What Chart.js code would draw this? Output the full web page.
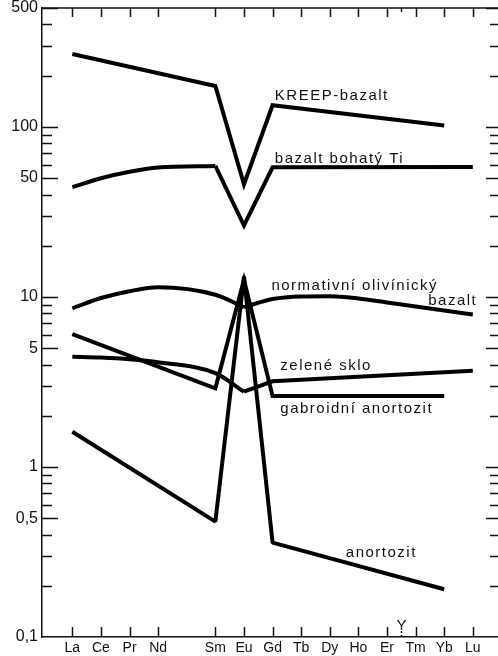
<!DOCTYPE html>
<html>
<head>
<meta charset="utf-8">
<script src="https://cdn.jsdelivr.net/npm/chart.js@4.4.1/dist/chart.umd.min.js"></script>
<style>
  html, body { margin: 0; padding: 0; background: #fff; }
  canvas { display: block; }
</style>
</head>
<body>
<canvas id="ree" width="498" height="656"></canvas>
<script>
// REE patterns, x = atomic number (Pm left out), y = normalised abundance (log)
const elements = ['La','Ce','Pr','Nd','Sm','Eu','Gd','Tb','Dy','Ho','Er','Tm','Yb','Lu'];
const atomicNumbers = [57, 58, 59, 60, 62, 63, 64, 65, 66, 67, 68, 69, 70, 71];
const yttriumAt = 68.5;

const yLabelTicks = [0.1, 0.5, 1, 5, 10, 50, 100, 500];
const yMinorTicks = [0.2, 0.3, 0.4, 0.6, 0.7, 0.8, 0.9, 2, 3, 4, 6, 7, 8, 9,
                     20, 30, 40, 60, 70, 80, 90, 200, 300, 400];

const kreepElements = ['La', 'Sm', 'Eu', 'Gd', 'Yb'];
const kreepValues = [268, 174, 46, 134, 102];

const tiCurveElements = ['La', 'Ce', 'Pr', 'Nd', 'Sm'];
const tiCurveValues = [44.2, 49.9, 54.5, 57.7, 58.9];
const tiLineElements = ['Sm', 'Eu', 'Gd', 'Lu'];
const tiLineValues = [58.9, 26.3, 57.8, 58];

const olivinLeftElements = ['La', 'Ce', 'Pr', 'Nd', 'Sm', 'Eu'];
const olivinLeftValues = [8.57, 9.85, 10.8, 11.4, 10.3, 8.7];
const olivinRightElements = ['Eu', 'Gd', 'Tb', 'Dy', 'Ho', 'Er', 'Tm', 'Yb', 'Lu'];
const olivinRightValues = [8.7, 9.72, 10.06, 10.1, 9.79, 9.27, 8.78, 8.32, 7.88];

const glassCurveElements = ['La', 'Ce', 'Pr', 'Nd', 'Sm', 'Eu'];
const glassCurveValues = [4.45, 4.40, 4.30, 4.13, 3.56, 2.77];
const glassLineElements = ['Eu', 'Gd', 'Lu'];
const glassLineValues = [2.77, 3.19, 3.68];

const gabbroElements = ['La', 'Sm', 'Eu', 'Gd', 'Yb'];
const gabbroValues = [6.05, 2.90, 12.6, 2.61, 2.61];

const anorthElements = ['La', 'Sm', 'Eu', 'Gd', 'Yb'];
const anorthValues = [1.61, 0.477, 13.2, 0.359, 0.191];

// curve names, placed in data coordinates (left end of baseline)
const curveNames = [
  { text: 'KREEP-bazalt', x: 64.08, y: 143.9 },
  { text: 'bazalt bohatý Ti', x: 64.08, y: 61.3 },
  { text: 'normativní olivínický', x: 63.96, y: 10.98 },
  { text: 'bazalt', x: 69.44, y: 8.96 },
  { text: 'zelené sklo', x: 64.27, y: 3.72 },
  { text: 'gabroidní anortozit', x: 64.27, y: 2.07 },
  { text: 'anortozit', x: 66.56, y: 0.297 }
];

const zOf = el => atomicNumbers[elements.indexOf(el)];

function series(els, vals, smooth, join) {
  return {
    data: els.map((el, i) => ({ x: zOf(el), y: vals[i] })),
    borderColor: '#000',
    borderWidth: 4,
    pointRadius: 0,
    fill: false,
    tension: 0,
    cubicInterpolationMode: smooth ? 'monotone' : 'default',
    borderJoinStyle: join || 'miter',
    borderCapStyle: 'butt'
  };
}

Chart.defaults.font.family = '"Liberation Sans", Arial, sans-serif';
Chart.defaults.color = '#111';

const frame = {
  id: 'frame',
  afterDraw(chart) {
    const { ctx, chartArea: { left, right, top, bottom }, scales: { x, y } } = chart;
    ctx.save();
    ctx.strokeStyle = '#111';
    ctx.lineWidth = 1.5;

    ctx.beginPath();
    ctx.moveTo(left, top);
    ctx.lineTo(right, top);
    ctx.stroke();

    // inward ticks on left and right
    ctx.beginPath();
    yLabelTicks.forEach(v => {
      if (v === 0.1) return;
      const py = Math.round(y.getPixelForValue(v)) + 0.5;
      ctx.moveTo(left, py); ctx.lineTo(left + 16, py);
      ctx.moveTo(right, py); ctx.lineTo(right - 12, py);
    });
    yMinorTicks.forEach(v => {
      const py = Math.round(y.getPixelForValue(v)) + 0.5;
      ctx.moveTo(left, py); ctx.lineTo(left + 10, py);
      ctx.moveTo(right, py); ctx.lineTo(right - 8, py);
    });
    // element ticks, bottom and top
    atomicNumbers.forEach(z => {
      const px = Math.round(x.getPixelForValue(z)) + 0.5;
      ctx.moveTo(px, bottom); ctx.lineTo(px, bottom - 10);
      ctx.moveTo(px, top); ctx.lineTo(px, top + 9);
    });
    ctx.stroke();

    // yttrium marker
    const yx = Math.round(x.getPixelForValue(yttriumAt)) + 0.5;
    ctx.beginPath();
    ctx.moveTo(yx, top); ctx.lineTo(yx, top + 4);
    ctx.stroke();
    ctx.setLineDash([2, 2]);
    ctx.beginPath();
    ctx.moveTo(yx, bottom); ctx.lineTo(yx, bottom - 6);
    ctx.stroke();
    ctx.setLineDash([]);

    ctx.fillStyle = '#111';
    ctx.font = '15px "Liberation Sans", Arial, sans-serif';
    ctx.textAlign = 'center';
    ctx.textBaseline = 'alphabetic';
    ctx.fillText('Y', yx, bottom - 7);

    ctx.textAlign = 'left';
    ctx.letterSpacing = '1.5px';
    curveNames.forEach(n => {
      ctx.fillText(n.text, x.getPixelForValue(n.x), y.getPixelForValue(n.y));
    });
    ctx.restore();
  }
};

new Chart(document.getElementById('ree'), {
  type: 'line',
  data: {
    datasets: [
      series(kreepElements, kreepValues, false),
      series(tiCurveElements, tiCurveValues, true),
      series(tiLineElements, tiLineValues, false),
      series(olivinLeftElements, olivinLeftValues, true),
      series(olivinRightElements, olivinRightValues, true),
      series(glassCurveElements, glassCurveValues, true),
      series(glassLineElements, glassLineValues, false),
      series(gabbroElements, gabbroValues, false),
      series(anorthElements, anorthValues, false, 'bevel')
    ]
  },
  options: {
    responsive: false,
    animation: false,
    layout: { padding: { top: 8, right: 0, left: 0, bottom: 0 } },
    plugins: { legend: { display: false }, tooltip: { enabled: false } },
    scales: {
      x: {
        type: 'linear',
        min: 55.94,
        max: 71.88,
        grid: { display: false, drawTicks: false, tickLength: 0 },
        border: { display: true, color: '#111', width: 1.5 },
        ticks: {
          autoSkip: false,
          maxRotation: 0,
          padding: 3,
          font: { size: 14 },
          callback: v => elements[atomicNumbers.indexOf(v)] || ''
        },
        afterBuildTicks: s => { s.ticks = atomicNumbers.map(z => ({ value: z })); },
        afterFit: s => { s.height = 19; s.paddingLeft = 0; s.paddingRight = 0; }
      },
      y: {
        type: 'logarithmic',
        min: 0.1,
        max: 500,
        grid: { display: false, drawTicks: false, tickLength: 0 },
        border: { display: true, color: '#111', width: 1.5 },
        ticks: {
          autoSkip: false,
          padding: 4,
          font: { size: 16 },
          callback: v => String(v).replace('.', ',')
        },
        afterBuildTicks: s => { s.ticks = yLabelTicks.map(v => ({ value: v })); },
        afterFit: s => { s.width = 42; s.paddingTop = 0; s.paddingBottom = 0; }
      }
    }
  },
  plugins: [frame]
});
</script>
</body>
</html>
